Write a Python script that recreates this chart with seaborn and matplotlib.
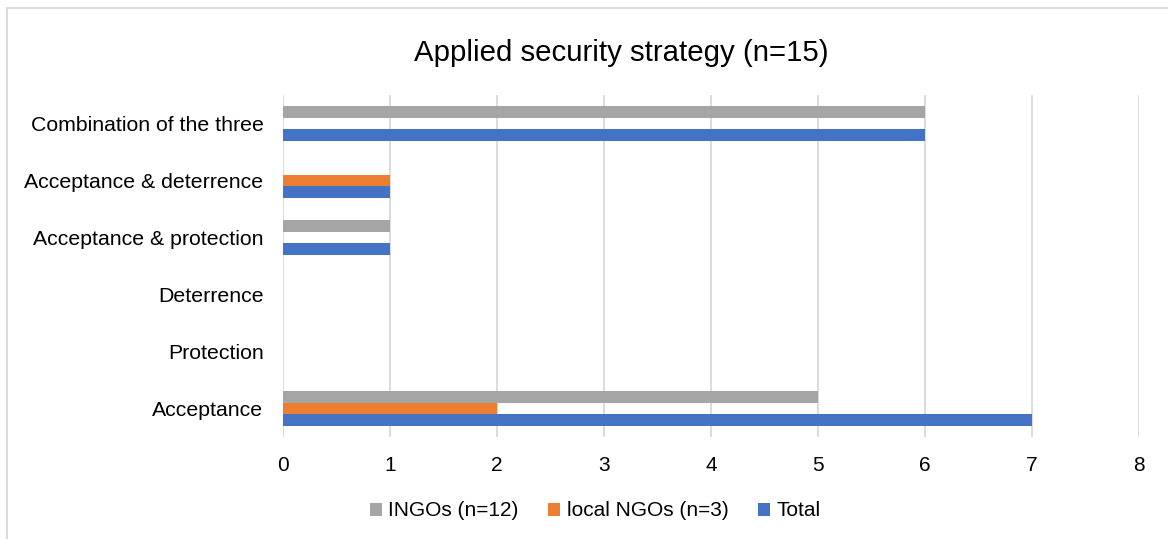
import matplotlib
matplotlib.use("Agg")
import matplotlib.pyplot as plt
from matplotlib.patches import Patch, Rectangle
import seaborn as sns
import pandas as pd

categories = ["Combination of the three", "Acceptance & deterrence",
              "Acceptance & protection", "Deterrence", "Protection", "Acceptance"]
series_names = ["INGOs (n=12)", "local NGOs (n=3)", "Total"]
ingos = [6, 0, 1, 0, 0, 5]
local_ngos = [0, 1, 0, 0, 0, 2]
total = [6, 1, 1, 0, 0, 7]
x_ticks = [0, 1, 2, 3, 4, 5, 6, 7, 8]
colors = ["#A5A5A5", "#ED7D31", "#4472C4"]
title = "Applied security strategy (n=15)"

rows = []
for name, vals in zip(series_names, [ingos, local_ngos, total]):
    for cat, v in zip(categories, vals):
        rows.append({"category": cat, "series": name, "value": v})
df = pd.DataFrame(rows)

sns.set_theme(style="white")
plt.rcParams["font.family"] = ["Liberation Sans", "DejaVu Sans"]
plt.rcParams["text.color"] = "#000000"

fig = plt.figure(figsize=(11.68, 5.39), dpi=100)
ax = fig.add_axes([283 / 1168, 1 - 437 / 539, (1139 - 283) / 1168, (437 - 95) / 539])

sns.barplot(data=df, y="category", x="value", hue="series", order=categories,
            hue_order=series_names, palette=colors, orient="h", width=0.63,
            gap=0, saturation=1, linewidth=0, legend=False, ax=ax)

ax.set_xlim(0, 8)
ax.set_ylim(len(categories) - 0.5, -0.5)
ax.set_xticks(x_ticks)
ax.set_xticklabels([str(t) for t in x_ticks], fontsize=15, color="#000000")
ax.tick_params(axis="y", labelsize=15.3, colors="#000000", length=0, pad=14)
ax.tick_params(axis="x", length=0, pad=14)
ax.set_xlabel("")
ax.set_ylabel("")
ax.xaxis.grid(True, color="#D9D9D9", linewidth=1.3)
ax.set_axisbelow(True)
for s in ax.spines.values():
    s.set_visible(False)

fig.text(621 / 1168, 1 - 53 / 539, title, ha="center", va="center", fontsize=21.2,
         color="#000000")

handles = [Patch(facecolor=c, edgecolor="none") for c in colors]
fig.legend(handles, series_names, loc="center", bbox_to_anchor=(595 / 1168, 1 - 511 / 539),
           ncol=3, frameon=False, fontsize=15, handlelength=0.6, handleheight=0.6,
           handletextpad=0.3, columnspacing=1.4, labelcolor="#000000")

fig.patches.append(Rectangle((7 / 1168, -0.1), 1.2, 1 - 8 / 539 + 0.1,
                             transform=fig.transFigure, fill=False,
                             edgecolor="#D9D9D9", linewidth=1.3))

fig.savefig("out.png", dpi=100)
